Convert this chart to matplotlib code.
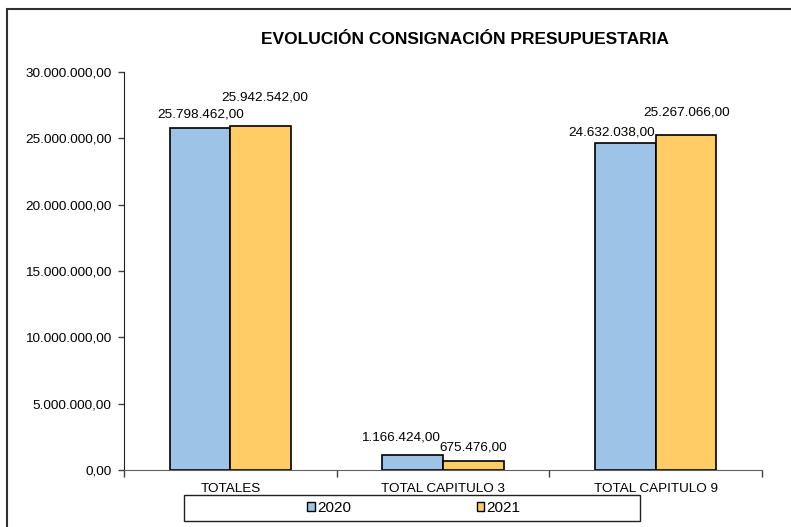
import matplotlib
matplotlib.use("Agg")
import matplotlib.pyplot as plt
from matplotlib.patches import Patch, Rectangle
from matplotlib.ticker import FuncFormatter
import numpy as np

plt.rcParams["font.family"] = ["Liberation Sans", "DejaVu Sans"]

# Data
categories = ["TOTALES", "TOTAL CAPITULO 3", "TOTAL CAPITULO 9"]
values_2020 = [25798462.00, 1166424.00, 24632038.00]
values_2021 = [25942542.00, 675476.00, 25267066.00]
series_names = ["2020", "2021"]
title = "EVOLUCIÓN CONSIGNACIÓN PRESUPUESTARIA"

# label offsets in pixels (dx, dy) from top centre of each bar, as placed in the original
offsets_2020 = [(1, 13), (-12, 17), (-14, 11)]
offsets_2021 = [(4, 28), (0, 14), (1, 22)]

COL_2020 = "#9DC3E6"
COL_2021 = "#FFCC66"
FS = 9.7


def fmt_es(v, pos=None):
    s = f"{v:,.2f}"
    return s.replace(",", "X").replace(".", ",").replace("X", ".")


fig = plt.figure(figsize=(7.91, 5.27), dpi=100)
ax = fig.add_axes([124 / 791, 1 - 470 / 527, (762 - 124) / 791, (470 - 72) / 527])

x = np.arange(len(categories))
width = 1 / 3.5
b1 = ax.bar(x - width / 2, values_2020, width, color=COL_2020, edgecolor="black", linewidth=1.2)
b2 = ax.bar(x + width / 2, values_2021, width, color=COL_2021, edgecolor="black", linewidth=1.2)

for bars, vals, offs in [(b1, values_2020, offsets_2020), (b2, values_2021, offsets_2021)]:
    for rect, v, (dx, dy) in zip(bars, vals, offs):
        ax.annotate(fmt_es(v), (rect.get_x() + rect.get_width() / 2, v),
                    xytext=(dx, dy), textcoords="offset pixels",
                    ha="center", va="center", fontsize=FS)

ax.set_xlim(-0.5, 2.5)
ax.set_ylim(0, 30000000)
ax.set_yticks(np.arange(0, 30000001, 5000000))
ax.yaxis.set_major_formatter(FuncFormatter(fmt_es))
ax.tick_params(axis="y", direction="out", length=4, width=1, labelsize=FS, pad=5, color="#404040")

ax.set_xticks(x)
ax.set_xticklabels(categories)
ax.tick_params(axis="x", which="major", length=0, labelsize=FS, pad=9)
ax.set_xticks([-0.5, 0.5, 1.5, 2.5], minor=True)
ax.tick_params(axis="x", which="minor", direction="out", length=5, width=1, color="#404040")

for side in ["top", "right"]:
    ax.spines[side].set_visible(False)
ax.spines["left"].set_color("#202020")
ax.spines["bottom"].set_color("#606060")

fig.text(465 / 791, 1 - 40 / 527, title, ha="center", va="center", fontsize=12.5, fontweight="bold")

# legend box
fig.patches.append(Rectangle((184 / 791, 1 - 521 / 527), 456 / 791, 26 / 527,
                             transform=fig.transFigure, fill=False, edgecolor="#202020", linewidth=1))
handles = [Patch(facecolor=COL_2020, edgecolor="black"), Patch(facecolor=COL_2021, edgecolor="black")]
fig.legend(handles, series_names, loc="center", bbox_to_anchor=(414 / 791, 1 - 508 / 527),
           ncol=2, frameon=False, fontsize=11, handlelength=0.5, handleheight=0.5,
           handletextpad=0.15, columnspacing=8.2, borderpad=0)

# outer chart border
fig.patches.append(Rectangle((7 / 791, -0.1), 1.2, 1.1 - 9 / 527,
                             transform=fig.transFigure, fill=False, edgecolor="#303030", linewidth=1.5))

fig.savefig("out.png", dpi=100)
